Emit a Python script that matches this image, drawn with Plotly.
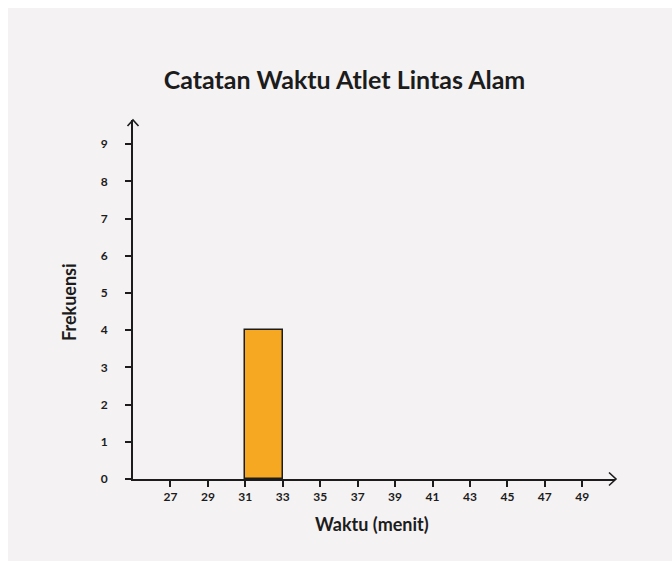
import plotly.graph_objects as go

# Histogram data: class boundaries (minutes) and frequency of each class
bin_edges = [27, 29, 31, 33, 35, 37, 39, 41, 43, 45, 47, 49]
frequencies = [0, 0, 4, 0, 0, 0, 0, 0, 0, 0, 0]
y_ticks = [0, 1, 2, 3, 4, 5, 6, 7, 8, 9]

title_text = "Catatan Waktu Atlet Lintas Alam"
x_title = "Waktu (menit)"
y_title = "Frekuensi"

W, H = 672, 561
L, R, T, B = 133, 57, 120, 82
PW, PH = W - L - R, H - T - B

FONT = "Lato, 'Open Sans', sans-serif"
INK = "#1c1c1c"
BAR = "#F6A823"
PANEL = "#F4F2F3"

def px_x(px):
    return (px - L) / PW

def px_y(py):
    return (H - B - py) / PH

mids, heights = [], []
for lo, hi, f in zip(bin_edges[:-1], bin_edges[1:], frequencies):
    if f > 0:
        mids.append((lo + hi) / 2)
        heights.append(f)

fig = go.Figure()
fig.add_trace(go.Bar(
    x=mids, y=heights, width=[2] * len(mids),
    marker=dict(color=BAR, line=dict(color=INK, width=1.5)),
    hoverinfo="skip", showlegend=False,
))

shapes = [
    # light panel behind the chart
    dict(type="rect", xref="paper", yref="paper", layer="below",
         x0=px_x(8), x1=px_x(W + 2), y0=px_y(H + 2), y1=px_y(8),
         fillcolor=PANEL, line=dict(width=0)),
    # arrowhead on the x axis
    dict(type="path", xref="paper", yref="paper",
         path=f"M {px_x(609)} {px_y(472.5)} L {px_x(616)} {px_y(479)} L {px_x(609)} {px_y(485.5)}",
         line=dict(color=INK, width=1.6)),
    # arrowhead on the y axis
    dict(type="path", xref="paper", yref="paper",
         path=f"M {px_x(127.5)} {px_y(126)} L {px_x(133)} {px_y(120)} L {px_x(138.5)} {px_y(126)}",
         line=dict(color=INK, width=1.6)),
]

annotations = [
    dict(text=f"<b>{x_title}</b>", xref="paper", yref="paper",
         x=px_x(372), y=px_y(524), xanchor="center", yanchor="middle",
         showarrow=False, font=dict(family=FONT, size=18, color=INK)),
    dict(text=f"<b>{y_title}</b>", xref="paper", yref="paper",
         x=px_x(69), y=px_y(302), xanchor="center", yanchor="middle",
         textangle=-90, showarrow=False, font=dict(family=FONT, size=18, color=INK)),
]

fig.update_layout(
    width=W, height=H,
    margin=dict(l=L, r=R, t=T, b=B, autoexpand=False),
    paper_bgcolor="white", plot_bgcolor="rgba(0,0,0,0)",
    title=dict(text=f"<b>{title_text}</b>", xref="container", yref="container",
               x=344.5 / W, y=1 - 80 / H, xanchor="center", yanchor="middle",
               font=dict(family=FONT, size=25, color=INK)),
    shapes=shapes, annotations=annotations,
    bargap=0,
)

fig.update_xaxes(
    range=[25, 50.75], tickvals=bin_edges, ticktext=[str(v) for v in bin_edges],
    showgrid=False, zeroline=False, showline=True, linecolor=INK, linewidth=1.6,
    ticks="outside", ticklen=6, tickwidth=1.5, tickcolor=INK,
    tickfont=dict(family=FONT, size=12, color=INK, weight="bold"),
    fixedrange=True,
)
fig.update_yaxes(
    range=[0, 9.65], tickvals=y_ticks, ticktext=[str(v) for v in y_ticks],
    showgrid=False, zeroline=False, showline=True, linecolor=INK, linewidth=1.6,
    ticks="outside", ticklen=6, tickwidth=1.5, tickcolor=INK,
    ticklabelstandoff=15,
    tickfont=dict(family=FONT, size=12, color=INK, weight="bold"),
    fixedrange=True,
)

fig.write_html("out.html")
